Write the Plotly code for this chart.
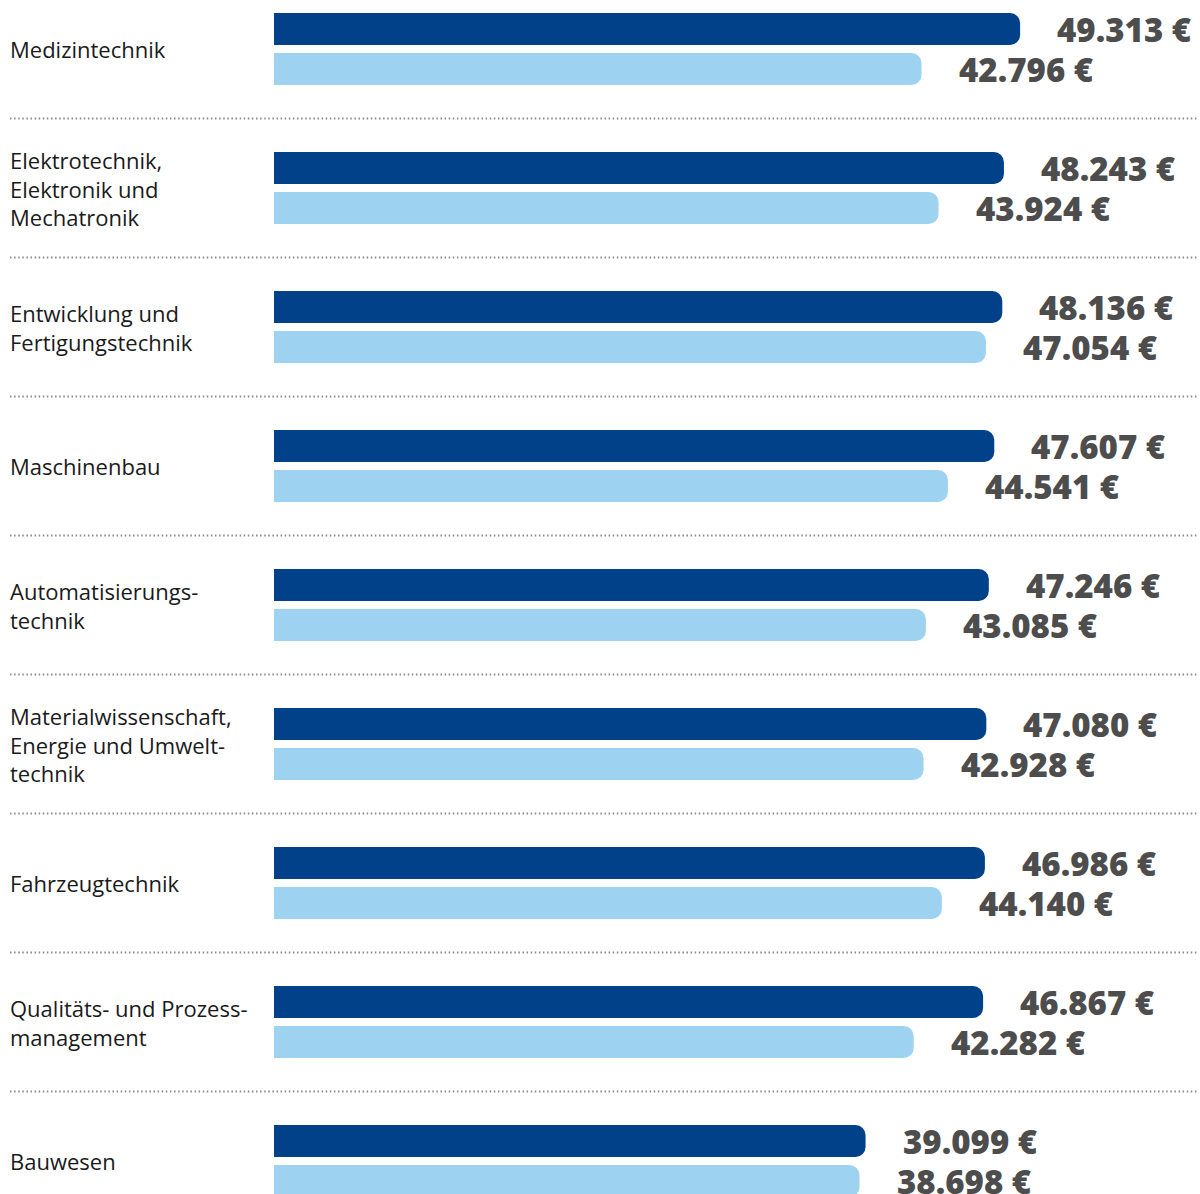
import plotly.graph_objects as go

categories = [
    "Medizintechnik",
    "Elektrotechnik,<br>Elektronik und<br>Mechatronik",
    "Entwicklung und<br>Fertigungstechnik",
    "Maschinenbau",
    "Automatisierungs-<br>technik",
    "Materialwissenschaft,<br>Energie und Umwelt-<br>technik",
    "Fahrzeugtechnik",
    "Qualitäts- und Prozess-<br>management",
    "Bauwesen",
]
series_a = [49313, 48243, 48136, 47607, 47246, 47080, 46986, 46867, 39099]
series_b = [42796, 43924, 47054, 44541, 43085, 42928, 44140, 42282, 38698]

DARK = "#00418A"
LIGHT = "#9DD3F0"
VAL_COLOR = "#4D4D4D"

def fmt(v):
    return f"{v:,}".replace(",", ".") + " €"

pos = list(range(len(categories)))

fig = go.Figure()
fig.add_trace(go.Bar(y=pos, x=series_a, orientation="h",
                     marker=dict(color=DARK, cornerradius=10, line=dict(width=0)),
                     hoverinfo="skip", showlegend=False))
fig.add_trace(go.Bar(y=pos, x=series_b, orientation="h",
                     marker=dict(color=LIGHT, cornerradius=10, line=dict(width=0)),
                     hoverinfo="skip", showlegend=False))

val_font = dict(family="Open Sans", size=33, color=VAL_COLOR, weight=800)
annotations = []
for i, (cat, a, b) in enumerate(zip(categories, series_a, series_b)):
    annotations.append(dict(xref="paper", yref="y", x=8/1200, y=i, xanchor="left",
                            yanchor="middle", text=cat, showarrow=False, align="left",
                            font=dict(family="Open Sans", size=22, color="#1A1A1A")))
    annotations.append(dict(xref="x", yref="y", x=a, y=i, yshift=20, xanchor="left",
                            yanchor="middle", xshift=35, text=fmt(a), showarrow=False,
                            font=val_font))
    annotations.append(dict(xref="x", yref="y", x=b, y=i, yshift=-20, xanchor="left",
                            yanchor="middle", xshift=35, text=fmt(b), showarrow=False,
                            font=val_font))

shapes = []
for i in range(len(categories) - 1):
    shapes.append(dict(type="line", xref="paper", yref="y", x0=10/1200, x1=1198/1200,
                       y0=i + 0.5, y1=i + 0.5,
                       line=dict(color="#8A8A8A", width=2, dash="1.5px,2.6px")))

fig.update_layout(
    width=1200, height=1194,
    margin=dict(l=0, r=0, t=0, b=0),
    paper_bgcolor="white", plot_bgcolor="white",
    barmode="group", bargap=1 - 80/139, bargroupgap=0.2,
    xaxis=dict(domain=[274/1200, 1], range=[0, 926/0.01513], visible=False, fixedrange=True),
    yaxis=dict(range=[(1194 - 49)/139, -49/139], visible=False, fixedrange=True),
    annotations=annotations, shapes=shapes,
)

fig.write_html("out.html", config={"displayModeBar": False},
               post_script="document.body.style.margin='0px';document.body.style.overflow='hidden';")
